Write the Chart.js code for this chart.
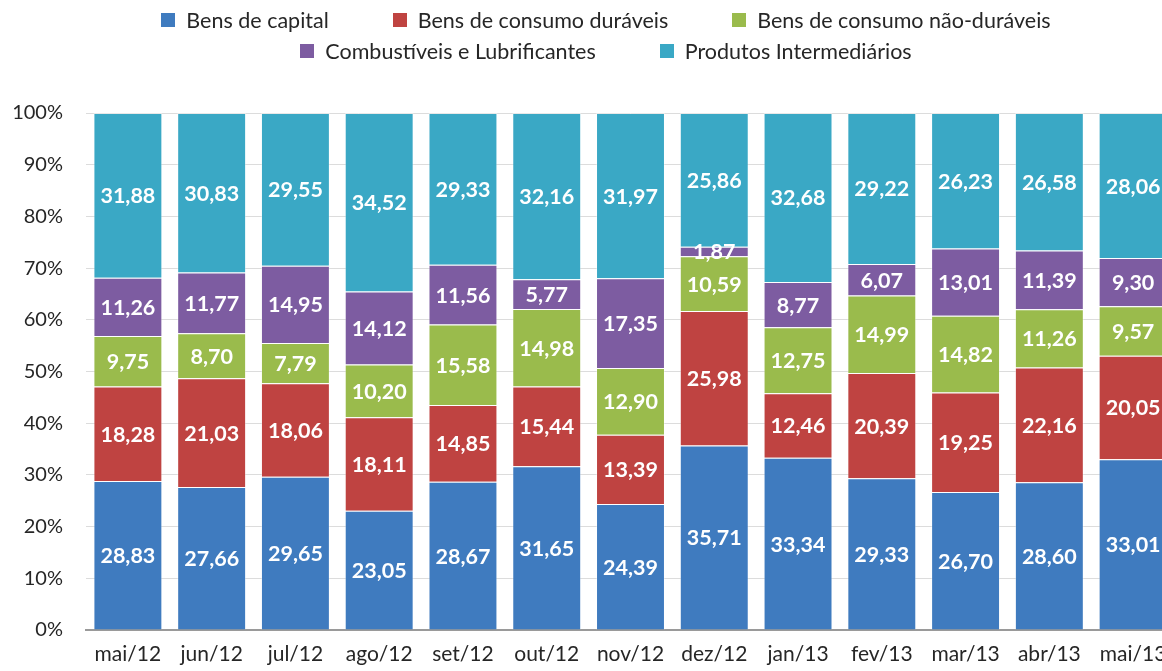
<!DOCTYPE html>
<html>
<head>
<meta charset="utf-8">
<script src="https://cdn.jsdelivr.net/npm/chart.js@4.4.1/dist/chart.umd.min.js"></script>
<style>
  html, body { margin: 0; padding: 0; background: #fff; overflow: hidden; }
  #wrap { position: relative; width: 1162px; height: 671px; overflow: hidden; }
  #c { position: absolute; left: 0; top: 0; }
  .legend { position: absolute; left: 0; width: 1212px; display: flex; justify-content: center; gap: 64px;
            font-family: Lato, "Noto Sans", sans-serif; font-size: 21.5px; color: #262626; }
  .item { display: flex; align-items: center; white-space: nowrap; }
  .sw { width: 14px; height: 14px; margin-right: 11px; }
</style>
</head>
<body>
<div id="wrap">
  <canvas id="c" width="1180" height="671"></canvas>
  <div class="legend" id="row1" style="top:7px"></div>
  <div class="legend" id="row2" style="top:38px"></div>
</div>
<script>
const categories = ["mai/12","jun/12","jul/12","ago/12","set/12","out/12","nov/12","dez/12","jan/13","fev/13","mar/13","abr/13","mai/13"];
const seriesNames = ["Bens de capital","Bens de consumo duráveis","Bens de consumo não-duráveis","Combustíveis e Lubrificantes","Produtos Intermediários"];
const bensCapital   = [28.83,27.66,29.65,23.05,28.67,31.65,24.39,35.71,33.34,29.33,26.70,28.60,33.01];
const duraveis      = [18.28,21.03,18.06,18.11,14.85,15.44,13.39,25.98,12.46,20.39,19.25,22.16,20.05];
const naoDuraveis   = [9.75,8.70,7.79,10.20,15.58,14.98,12.90,10.59,12.75,14.99,14.82,11.26,9.57];
const combustiveis  = [11.26,11.77,14.95,14.12,11.56,5.77,17.35,1.87,8.77,6.07,13.01,11.39,9.30];
const intermediarios= [31.88,30.83,29.55,34.52,29.33,32.16,31.97,25.86,32.68,29.22,26.23,26.58,28.06];
const yTicks = [0,10,20,30,40,50,60,70,80,90,100];
const colors = ["#3F7BBF","#BF4341","#9ABB4C","#7D5CA1","#3AA8C5"];

const seriesData = [bensCapital, duraveis, naoDuraveis, combustiveis, intermediarios];

// HTML legend
const rows = [[0,1,2],[3,4]];
rows.forEach((r, ri) => {
  const el = document.getElementById(ri === 0 ? 'row1' : 'row2');
  r.forEach(i => {
    const it = document.createElement('div'); it.className = 'item';
    const sw = document.createElement('div'); sw.className = 'sw'; sw.style.background = colors[i];
    const tx = document.createElement('span'); tx.textContent = seriesNames[i];
    it.appendChild(sw); it.appendChild(tx); el.appendChild(it);
  });
});

const fmt = v => v.toFixed(2).replace('.', ',');

const labelPlugin = {
  id: 'segLabels',
  afterDatasetsDraw(chart) {
    const ctx = chart.ctx;
    ctx.save();
    ctx.font = 'bold 21.5px Lato, "Noto Sans", sans-serif';
    ctx.fillStyle = '#ffffff';
    ctx.textAlign = 'center';
    ctx.textBaseline = 'middle';
    chart.data.datasets.forEach((ds, i) => {
      const meta = chart.getDatasetMeta(i);
      meta.data.forEach((bar, j) => {
        const p = bar.getProps(['x','y','base'], true);
        ctx.fillText(fmt(ds.data[j]), p.x, (p.y + p.base) / 2 + 1);
      });
    });
    ctx.restore();
  }
};

new Chart(document.getElementById('c'), {
  type: 'bar',
  data: {
    labels: categories,
    datasets: seriesData.map((d, i) => ({
      label: seriesNames[i],
      data: d,
      backgroundColor: colors[i],
      borderColor: 'rgba(255,255,255,0.35)',
      borderWidth: 1,
      barPercentage: 0.823,
      categoryPercentage: 1.0
    }))
  },
  options: {
    responsive: false,
    animation: false,
    events: [],
    layout: { padding: { left: 0, right: 5, top: 113, bottom: 0 } },
    plugins: { legend: { display: false }, tooltip: { enabled: false } },
    scales: {
      x: {
        stacked: true,
        grid: { display: false, drawTicks: false },
        border: { display: true, color: '#9a9a9a', width: 2 },
        ticks: { color: '#262626', font: { family: 'Lato, "Noto Sans", sans-serif', size: 21 }, padding: 12, maxRotation: 0, autoSkip: false },
        afterFit(s) { s.height = 41; }
      },
      y: {
        stacked: true,
        min: 0, max: 100,
        afterBuildTicks(s) { s.ticks = yTicks.map(v => ({ value: v })); },
        grid: { color: '#dcdcdc', lineWidth: 1, drawTicks: false },
        border: { display: false },
        ticks: { color: '#262626', font: { family: 'Lato, "Noto Sans", sans-serif', size: 20 }, padding: 23, callback: v => v + '%' },
        afterFit(s) { s.width = 86; }
      }
    }
  },
  plugins: [labelPlugin]
});
</script>
</body>
</html>
